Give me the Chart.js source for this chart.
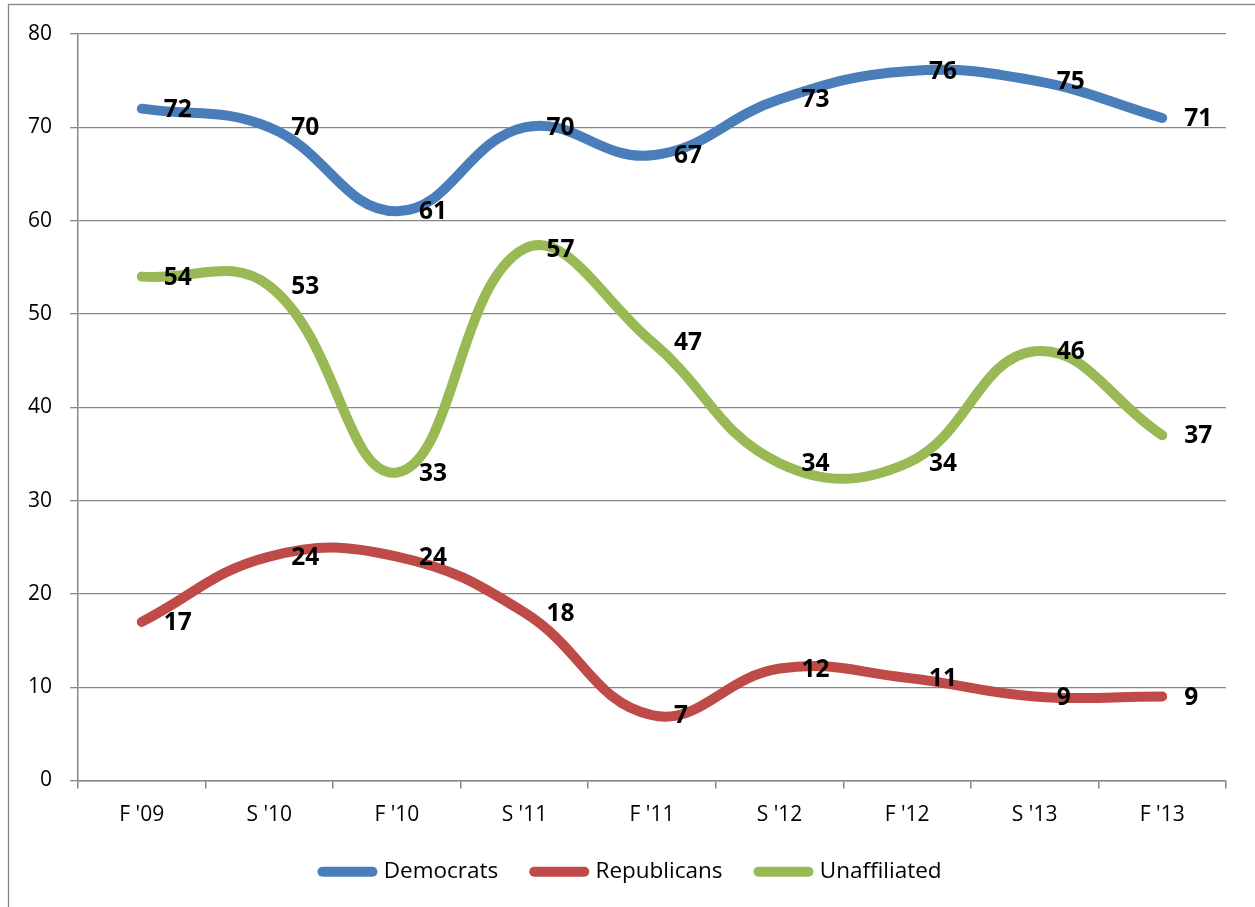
<!DOCTYPE html>
<html>
<head>
<meta charset="utf-8">
<script src="https://cdn.jsdelivr.net/npm/chart.js@4.4.1/dist/chart.umd.min.js"></script>
<style>
  html, body { margin: 0; padding: 0; background: #ffffff; }
  canvas { display: block; }
</style>
</head>
<body>
<canvas id="chart" width="1255" height="907"></canvas>
<script>
// Survey terms (Fall / Spring) and party identification shares, in percent
const terms = ["F '09", "S '10", "F '10", "S '11", "F '11", "S '12", "F '12", "S '13", "F '13"];
const democrats = [72, 70, 61, 70, 67, 73, 76, 75, 71];
const republicans = [17, 24, 24, 18, 7, 12, 11, 9, 9];
const unaffiliated = [54, 53, 33, 57, 47, 34, 34, 46, 37];
const yMin = 0;
const yMax = 80;
const yStep = 10;

const FONT = "'Open Sans', 'Liberation Sans', sans-serif";
const GRID = '#868686';

// White page and the thin frame around the whole chart
const framePlugin = {
  id: 'frame',
  beforeDraw(chart) {
    const ctx = chart.ctx;
    ctx.save();
    ctx.fillStyle = '#ffffff';
    ctx.fillRect(0, 0, chart.width, chart.height);
    ctx.strokeStyle = GRID;
    ctx.lineWidth = 1.3;
    ctx.strokeRect(8.5, 4.5, chart.width + 100, chart.height + 100);
    ctx.restore();
  }
};

// Centre the legend under the plot area rather than the full canvas
const legendShift = {
  id: 'legendShift',
  afterLayout(chart) {
    const lg = chart.legend;
    if (lg) {
      lg.left += 19;
      lg.right += 19;
    }
  }
};

// Value labels placed to the right of each point
const valueLabels = {
  id: 'valueLabels',
  afterDatasetsDraw(chart) {
    const ctx = chart.ctx;
    ctx.save();
    ctx.font = 'bold 24.5px ' + FONT;
    ctx.fillStyle = '#000000';
    ctx.textAlign = 'left';
    ctx.textBaseline = 'middle';
    chart.data.datasets.forEach((ds, di) => {
      const meta = chart.getDatasetMeta(di);
      meta.data.forEach((pt, i) => {
        ctx.fillText(String(ds.data[i]), pt.x + 22, pt.y + 1);
      });
    });
    ctx.restore();
  }
};

function series(label, data, color) {
  return {
    label,
    data,
    borderColor: color,
    backgroundColor: color,
    borderWidth: 10,
    borderCapStyle: 'round',
    borderJoinStyle: 'round',
    pointRadius: 0,
    pointHoverRadius: 0,
    pointStyle: 'line',
    tension: 0.42,
    fill: false
  };
}

new Chart(document.getElementById('chart'), {
  type: 'line',
  data: {
    labels: terms,
    datasets: [
      series('Democrats', democrats, '#4A7EBB'),
      series('Republicans', republicans, '#BE4B48'),
      series('Unaffiliated', unaffiliated, '#98B954')
    ]
  },
  options: {
    responsive: false,
    animation: false,
    layout: { padding: { left: 0, right: 29, top: 34, bottom: 14 } },
    plugins: {
      tooltip: { enabled: false },
      legend: {
        position: 'bottom',
        labels: {
          usePointStyle: true,
          pointStyle: 'line',
          pointStyleWidth: 50,
          boxHeight: 22,
          padding: 36,
          color: '#000000',
          font: { family: FONT, size: 22.5 },
          generateLabels(chart) {
            const items = Chart.defaults.plugins.legend.labels.generateLabels(chart);
            return items.map(item => Object.assign(item, { lineCap: 'round', lineWidth: 10 }));
          }
        }
      }
    },
    scales: {
      x: {
        offset: true,
        afterFit(scale) { scale.height = 44; },
        border: { display: true, color: GRID, width: 1.5 },
        grid: {
          offset: true,
          drawOnChartArea: false,
          drawTicks: true,
          tickLength: 8,
          color: GRID,
          lineWidth: 1.5
        },
        ticks: {
          color: '#000000',
          padding: 14,
          maxRotation: 0,
          font: { family: FONT, size: 21 }
        }
      },
      y: {
        min: yMin,
        max: yMax,
        afterFit(scale) { scale.width = 78; },
        border: { display: true, color: GRID, width: 1.5 },
        grid: {
          color: GRID,
          lineWidth: 1.3,
          drawTicks: true,
          tickLength: 8
        },
        ticks: {
          stepSize: yStep,
          color: '#000000',
          padding: 18,
          font: { family: FONT, size: 21 }
        }
      }
    }
  },
  plugins: [framePlugin, legendShift, valueLabels]
});
</script>
</body>
</html>
